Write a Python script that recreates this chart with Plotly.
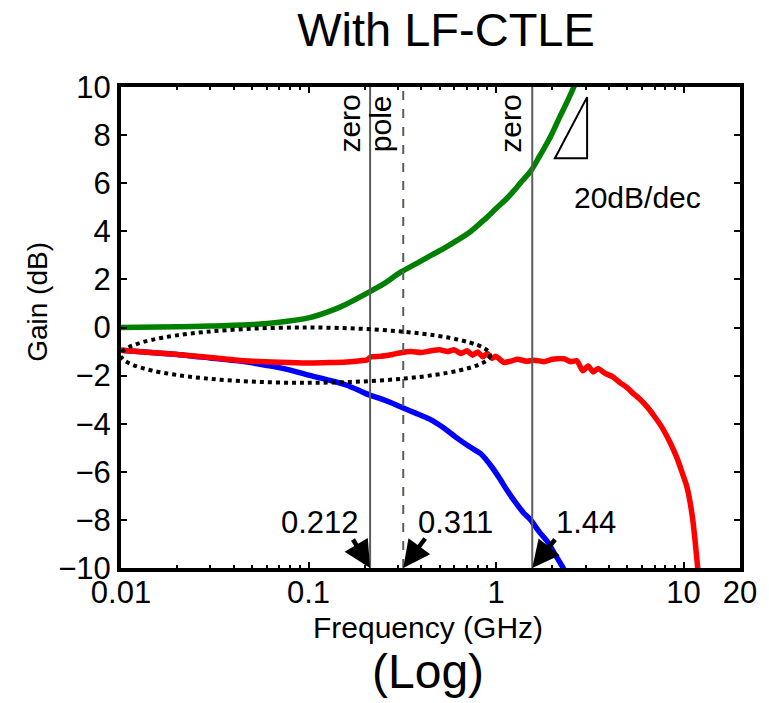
import math
import plotly.graph_objects as go

# ---------------- data ----------------
freq_green = [0.01, 0.02, 0.03, 0.05, 0.07, 0.1, 0.13, 0.16, 0.2, 0.25, 0.31, 0.38, 0.45,
              0.53, 0.62, 0.72, 0.8, 0.9, 1.0, 1.12, 1.25, 1.38, 1.53, 1.7, 1.85, 2.0,
              2.2, 2.4, 2.6, 2.8]
gain_green = [0.0, 0.03, 0.06, 0.12, 0.22, 0.4, 0.68, 0.98, 1.38, 1.8, 2.3, 2.68, 3.0,
              3.3, 3.62, 3.95, 4.25, 4.6, 4.95, 5.3, 5.7, 6.1, 6.5, 7.1, 7.6, 8.1,
              8.8, 9.4, 10.0, 10.6]

freq_red = [0.01, 0.015, 0.02, 0.03, 0.045, 0.07, 0.1, 0.13, 0.16, 0.19, 0.205, 0.215,
            0.24, 0.28, 0.31, 0.35, 0.4, 0.45, 0.5, 0.55, 0.6, 0.65, 0.7, 0.75, 0.8,
            0.85, 0.9, 0.95, 1.0, 1.1, 1.2, 1.3, 1.45, 1.6, 1.8, 2.0, 2.3, 2.5, 2.7,
            2.9, 3.1, 3.3, 3.5, 3.8, 4.2, 4.6, 5.0, 5.4, 5.8, 6.4, 7.0, 7.6, 8.5,
            9.2, 9.6, 10.0, 10.4, 10.8, 11.2, 11.5, 11.9, 12.1]
gain_red = [-0.95, -1.05, -1.12, -1.25, -1.38, -1.45, -1.48, -1.46, -1.43, -1.38, -1.35, -1.22,
            -1.2, -1.12, -1.05, -1.0, -1.04, -0.97, -0.93, -1.0, -0.93, -1.08, -0.97, -1.15, -1.02,
            -1.22, -1.08, -1.28, -1.2, -1.45, -1.4, -1.32, -1.4, -1.36, -1.42, -1.32, -1.3, -1.42, -1.38,
            -1.8, -1.6, -1.85, -1.7, -1.9, -2.05, -2.3, -2.5, -2.75, -2.95, -3.3, -3.7, -4.1, -4.8,
            -5.4, -5.8, -6.2, -6.6, -7.2, -8.0, -8.8, -10.0, -10.6]

freq_blue = [0.01, 0.015, 0.02, 0.03, 0.045, 0.06, 0.075, 0.1, 0.13, 0.16, 0.19, 0.21,
             0.24, 0.28, 0.32, 0.37, 0.44, 0.52, 0.62, 0.72, 0.83, 0.95, 1.05, 1.14,
             1.25, 1.4, 1.53, 1.7, 1.88, 2.05, 2.28, 2.4]
gain_blue = [-0.95, -1.05, -1.12, -1.27, -1.42, -1.58, -1.72, -1.98, -2.2, -2.4, -2.65, -2.8,
             -2.95, -3.15, -3.35, -3.55, -3.8, -4.15, -4.6, -4.95, -5.25, -5.8, -6.3, -6.75,
             -7.2, -7.7, -8.0, -8.5, -8.9, -9.4, -10.0, -10.5]

marker_freqs = [0.213, 0.32, 1.56]
marker_labels = ["0.212", "0.311", "1.44"]
marker_names = ["zero", "pole", "zero"]
marker_dash = ["solid", "dash", "solid"]

x_tickvals = [0.01, 0.1, 1, 10, 20]
x_ticktext = ["0.01", "0.1", "1", "10", "20"]
y_tickvals = [-10, -8, -6, -4, -2, 0, 2, 4, 6, 8, 10]

FONT = "Liberation Sans, Arial, Helvetica, sans-serif"

fig = go.Figure()
fig.add_trace(go.Scatter(x=freq_green, y=gain_green, mode="lines",
                         line=dict(color="#008000", width=5.5, shape="spline", smoothing=0.8),
                         showlegend=False))
fig.add_trace(go.Scatter(x=freq_blue, y=gain_blue, mode="lines",
                         line=dict(color="#0000ff", width=5.5, shape="spline", smoothing=0.6),
                         showlegend=False))
fig.add_trace(go.Scatter(x=freq_red, y=gain_red, mode="lines",
                         line=dict(color="#ff0000", width=5.5, shape="spline", smoothing=0.5),
                         showlegend=False))

# vertical zero/pole lines
for f, d in zip(marker_freqs, marker_dash):
    fig.add_shape(type="line", xref="x", yref="paper", x0=f, x1=f, y0=0, y1=1,
                  line=dict(color="#5c5c58", width=2, dash=d), layer="above")

# dotted ellipse
fig.add_shape(type="circle", xref="x", yref="y", x0=0.01, x1=0.93, y0=-2.3, y1=0.0,
              line=dict(color="black", width=4, dash="dot"))

# slope triangle (paper coords)
fig.add_shape(type="path", xref="paper", yref="paper",
              path="M 0.701 0.852 L 0.753 0.852 L 0.753 0.979 Z",
              line=dict(color="black", width=2))

annotations = []
# rotated labels
shifts = [-3, -4, -4]
for f, name, s in zip(marker_freqs, marker_names, shifts):
    annotations.append(dict(x=math.log10(f), y=1, xref="x", yref="paper", text=name,
                            textangle=-90, showarrow=False, xanchor="right", yanchor="top",
                            xshift=s, yshift=-6, font=dict(size=30, family=FONT, color="black")))
# arrows
arrow_offsets = [(-18, -30), (23, -31), (24, -30)]
for f, (ax, ay) in zip(marker_freqs, arrow_offsets):
    annotations.append(dict(x=math.log10(f), y=-10, xref="x", yref="y", text="",
                            showarrow=True, ax=ax, ay=ay, arrowhead=2, arrowsize=1.2,
                            arrowwidth=4.5, arrowcolor="black", standoff=0))
# value labels
label_pos = [("right", -9), ("left", 13), ("left", 22)]
for f, lab, (anc, xs) in zip(marker_freqs, marker_labels, label_pos):
    annotations.append(dict(x=math.log10(f), y=-8.1, xref="x", yref="y", text=lab,
                            showarrow=False, xanchor=anc, yanchor="middle", xshift=xs,
                            font=dict(size=31, family=FONT, color="black")))

annotations.append(dict(x=0.834, y=0.771, xref="paper", yref="paper", text="20dB/dec",
                        showarrow=False, xanchor="center", yanchor="middle",
                        font=dict(size=30, family=FONT, color="black")))
annotations.append(dict(x=0.496, y=-0.124, xref="paper", yref="paper", text="Frequency (GHz)",
                        showarrow=False, xanchor="center", yanchor="middle",
                        font=dict(size=30, family=FONT, color="black")))
annotations.append(dict(x=0.496, y=-0.215, xref="paper", yref="paper", text="(Log)",
                        showarrow=False, xanchor="center", yanchor="middle",
                        font=dict(size=48, family=FONT, color="black")))
annotations.append(dict(x=-0.136, y=0.553, xref="paper", yref="paper", text="Gain (dB)",
                        textangle=-90, showarrow=False, xanchor="center", yanchor="middle",
                        font=dict(size=28, family=FONT, color="black")))

fig.update_layout(
    width=769, height=703,
    margin=dict(l=121, r=29, t=87, b=135),
    paper_bgcolor="white", plot_bgcolor="white",
    title=dict(text="With LF-CTLE", x=446 / 769, xanchor="center", y=1 - 30 / 703,
               yanchor="middle", font=dict(size=47, family=FONT, color="black")),
    annotations=annotations,
    font=dict(family=FONT, color="black"),
)
fig.update_xaxes(type="log", range=[math.log10(0.01), math.log10(20)],
                 tickvals=x_tickvals, ticktext=x_ticktext,
                 ticks="inside", ticklen=6, tickwidth=2, tickcolor="black",
                 ticklabelstandoff=-6,
                 showline=True, linewidth=4, linecolor="black", mirror="ticks",
                 showgrid=False, zeroline=False,
                 tickfont=dict(size=31, family=FONT, color="black"),
                 minor=dict(ticks="inside", ticklen=3, tickwidth=2, tickcolor="black",
                            dtick="D1", showgrid=False))
fig.update_yaxes(range=[-10, 10], tickvals=y_tickvals,
                 ticks="inside", ticklen=6, tickwidth=2, tickcolor="black",
                 showline=True, linewidth=4, linecolor="black", mirror="ticks",
                 showgrid=False, zeroline=False,
                 tickfont=dict(size=31, family=FONT, color="black"))

fig.write_html("out.html")
